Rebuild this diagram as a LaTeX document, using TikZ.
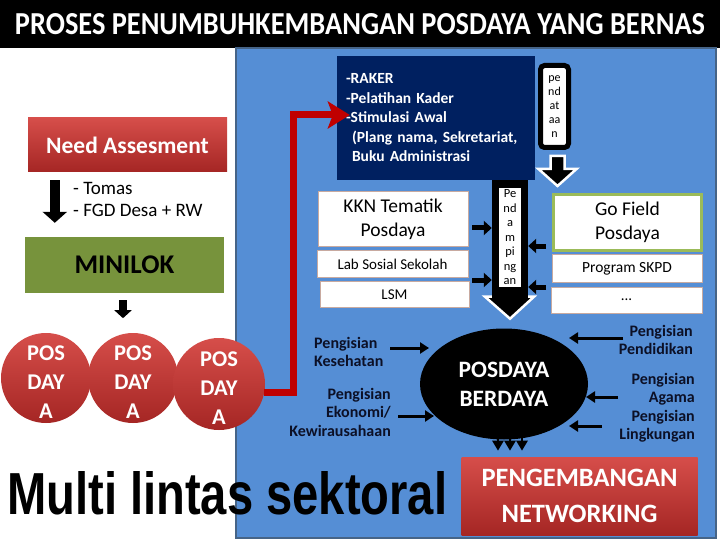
\documentclass[tikz,border=0pt]{standalone}
\usepackage{graphicx}
\usepackage{fontspec}
\setmainfont{Carlito}
\newfontfamily\arialf{Liberation Sans}
\usetikzlibrary{arrows.meta,shapes.geometric,calc}
\definecolor{panelblue}{RGB}{85,142,213}
\definecolor{panelborder}{RGB}{70,100,135}
\definecolor{navybox}{RGB}{0,32,96}
\definecolor{redtop}{RGB}{214,78,74}
\definecolor{redbot}{RGB}{165,38,36}
\definecolor{minigreen}{RGB}{119,147,60}
\definecolor{gofield}{RGB}{155,187,89}
\definecolor{boxedge}{RGB}{200,170,160}
\definecolor{lbltext}{RGB}{12,16,38}
\definecolor{darkred}{RGB}{192,0,0}
\tikzset{
  redbox/.style={top color=redtop, bottom color=redbot, draw=none, inner sep=0pt},
  wbox/.style={fill=white, draw=boxedge, line width=0.8pt, inner sep=0pt, align=center},
  lbl/.style={font=\fontsize{16}{18.5}\selectfont\bfseries, text=lbltext, inner sep=0pt},
  fatarr/.style={line width=5pt, -{Triangle[width=14pt,length=8pt]}},
  thinarr/.style={line width=3pt, -{Triangle[width=11pt,length=9pt]}},
  posc/.style={circle, minimum size=90pt, top color=redtop, bottom color=redbot, text=white,
    font=\fontsize{22.5}{29}\selectfont\bfseries, align=center, inner sep=0pt},
  redconn/.style={darkred, line width=7pt, line join=miter, -{Stealth[width=27pt,length=22pt,inset=5pt]}},
  nettext/.style={text=white, inner sep=0pt, font=\fontsize{26.5}{30}\selectfont\bfseries},
}
\begin{document}
\begin{tikzpicture}[x=1pt,y=-1pt]
\useasboundingbox (0,0) rectangle (720,540);
\fill[white] (0,0) rectangle (720,540);
\fill[black] (0,0) rectangle (720,48);
\node[text=white, inner sep=0pt] (title) at (360,24)
  {\resizebox{690pt}{21pt}{\bfseries PROSES PENUMBUHKEMBANGAN POSDAYA YANG BERNAS}};
% blue panel
\node[fill=panelblue, draw=panelborder, line width=1.5pt, minimum width=480pt, minimum height=490pt, inner sep=0pt] (panel) at (476,293) {};

% left column
\node[redbox, minimum width=199pt, minimum height=54pt, text=white, font=\fontsize{23.5}{26}\selectfont\bfseries] (need) at (127.5,145) {Need Assesment};
\node[fill=minigreen, minimum width=199pt, minimum height=56pt, inner sep=0pt, font=\fontsize{27}{30}\selectfont\bfseries] (minilok) at (124.5,265) {MINILOK};
\node[anchor=west, align=left, font=\fontsize{19}{22}\selectfont, inner sep=0pt] (tomas) at (73,199) {- Tomas\\- FGD Desa + RW};
\draw[line width=10pt, -{Triangle[width=24pt,length=11pt]}] ($(need.south west)+(27,8)$) -- ($(minilok.north west)+(30,-14)$);
\draw[line width=8pt, -{Triangle[width=17pt,length=8pt]}] ($(minilok.south)+(-1.5,7)$) -- ($(minilok.south)+(-1.5,25)$);

\node[posc] (c1) at (46,378) {\rule{0pt}{22pt}POS\\DAY\\A};
\node[posc] (c2) at (133,378) {\rule{0pt}{22pt}POS\\DAY\\A};
\node[posc, minimum size=92pt] (c3) at (219,384) {\rule{0pt}{22pt}POS\\DAY\\A};

% navy box
\node[fill=navybox, minimum width=198pt, minimum height=124pt, text width=180pt, inner xsep=9pt, inner ysep=0pt, align=left, text=white, font=\fontsize{15.5}{19.5}\selectfont\bfseries] (navy) at (436,118)
  {-RAKER\\-Pelatihan Kader\\-Stimulasi Awal\\\hspace*{6pt}(Plang nama, Sekretariat,\\\hspace*{6pt}Buku Administrasi};
\coordinate (redc) at (293,115);
\draw[redconn] ($(c3.east)+(-1,8)$) -| (redc) -- ($(navy.west)+(13,-3)$);

% pendataan
\node[draw=black, line width=5pt, fill=white, rounded corners=4pt, minimum width=28pt, minimum height=82pt, inner sep=0pt, align=center, font=\fontsize{12}{14}\selectfont] (pendat) at (554.5,106.5) {pe\\nd\\at\\aa\\n};
\begin{scope}[shift={(pendat.south)}]
\filldraw[fill=black, draw=white, line width=2.5pt, line join=miter] (-4,6) -- (10,6) -- (10,19) -- (22,19) -- (3,36) -- (-16,19) -- (-4,19) -- cycle;
\end{scope}

% middle boxes
\node[wbox, minimum width=150pt, minimum height=55pt, font=\fontsize{19.5}{24}\selectfont] (kkn) at (393,219) {KKN Tematik\\Posdaya};
\node[wbox, minimum width=151pt, minimum height=27pt, font=\fontsize{15}{17}\selectfont] (lab) at (392.5,264) {Lab Sosial Sekolah};
\node[wbox, minimum width=149pt, minimum height=26pt, font=\fontsize{15}{17}\selectfont] (lsm) at (394.5,294.5) {LSM};

% pendampingan bar
\node[fill=black, minimum width=36pt, minimum height=117pt, inner sep=0pt] (bar) at (510,239) {};
\begin{scope}[shift={(bar.south)}]
\filldraw[fill=black, draw=white, line width=2.5pt, line join=miter] (-25,-1) -- (24,-1) -- (0,21) -- cycle;
\end{scope}
\fill[black] ($(bar.south west)+(0,-4)$) rectangle ($(bar.south east)+(0,1.5)$);
\node[fill=white, minimum width=22pt, minimum height=99pt, inner sep=0pt, align=center, font=\fontsize{12.5}{14.5}\selectfont] (pendamp) at (510,237.5) {Pe\\nd\\a\\m\\pi\\ng\\an};

% right boxes
\node[fill=white, draw=gofield, line width=3pt, minimum width=148pt, minimum height=56pt, inner sep=0pt, align=center, font=\fontsize{19.5}{24}\selectfont] (gofield) at (627.5,222.5) {Go Field\\Posdaya};
\node[wbox, minimum width=150pt, minimum height=28pt, font=\fontsize{15.5}{17}\selectfont] (skpd) at (627,268.5) {Program SKPD};
\node[wbox, minimum width=151pt, minimum height=26pt, font=\fontsize{15}{17}\selectfont] (dots) at (626.5,300) {...};

% side arrows around bar
\coordinate (a1) at (472,228); \coordinate (a2) at (472,280);
\coordinate (a3) at (546,246); \coordinate (a4) at (546,287);
\draw[fatarr] (a1) -- (a1 -| bar.west);
\draw[fatarr] (a2) -- (a2 -| bar.west);
\draw[fatarr] (a3) -- (a3 -| bar.east);
\draw[fatarr] (a4) -- (a4 -| bar.east);

% ellipse
\node[ellipse, fill=black, minimum width=168pt, minimum height=111pt, inner sep=0pt, text=white, align=center, font=\fontsize{23.5}{29}\selectfont\bfseries] (pb) at (504,384) {POSDAYA\\BERDAYA};
\foreach \dx in {-6,6,18}
  \draw[line width=2.5pt, -{Triangle[width=11pt,length=10pt]}] ($(pb.south)+(\dx,-10)$) -- ($(pb.south)+(\dx,11)$);

% labels
\node[lbl, anchor=west, align=left] (kes) at (314,352) {Pengisian\\Kesehatan};
\node[lbl, anchor=east, align=right] (eko) at (391,412) {Pengisian\\Ekonomi/\\Kewirausahaan};
\node[lbl, anchor=east, align=right] (pdk) at (693,340) {Pengisian\\Pendidikan};
\node[lbl, anchor=east, align=right] (agm) at (695,407.5) {Pengisian\\Agama\\Pengisian\\Lingkungan};
\coordinate (k1) at (390,348); \coordinate (k2) at (429,348);
\coordinate (e1) at (398,416); \coordinate (e2) at (434,416);
\coordinate (p1) at (623,338); \coordinate (p2) at (569,338);
\coordinate (g1) at (618,397); \coordinate (g2) at (586,397);
\coordinate (l1) at (602,426); \coordinate (l2) at (569,426);
\draw[thinarr] (k1) -- (k2);
\draw[thinarr] (e1) -- (e2);
\draw[thinarr] (p1) -- (p2);
\draw[thinarr] (g1) -- (g2);
\draw[thinarr] (l1) -- (l2);

% bottom
\node[anchor=south west, inner sep=0pt] (multi) at (7,515) {\resizebox{440pt}{43pt}{\arialf\bfseries Multi lintas sektoral}};
\node[redbox, minimum width=236pt, minimum height=78pt] (net) at (579.5,496) {};
\node[nettext, anchor=base] (net1) at (579.5,486) {PENGEMBANGAN};
\node[nettext, anchor=base] (net2) at (579.5,522.5) {NETWORKING};
\end{tikzpicture}
\end{document}
